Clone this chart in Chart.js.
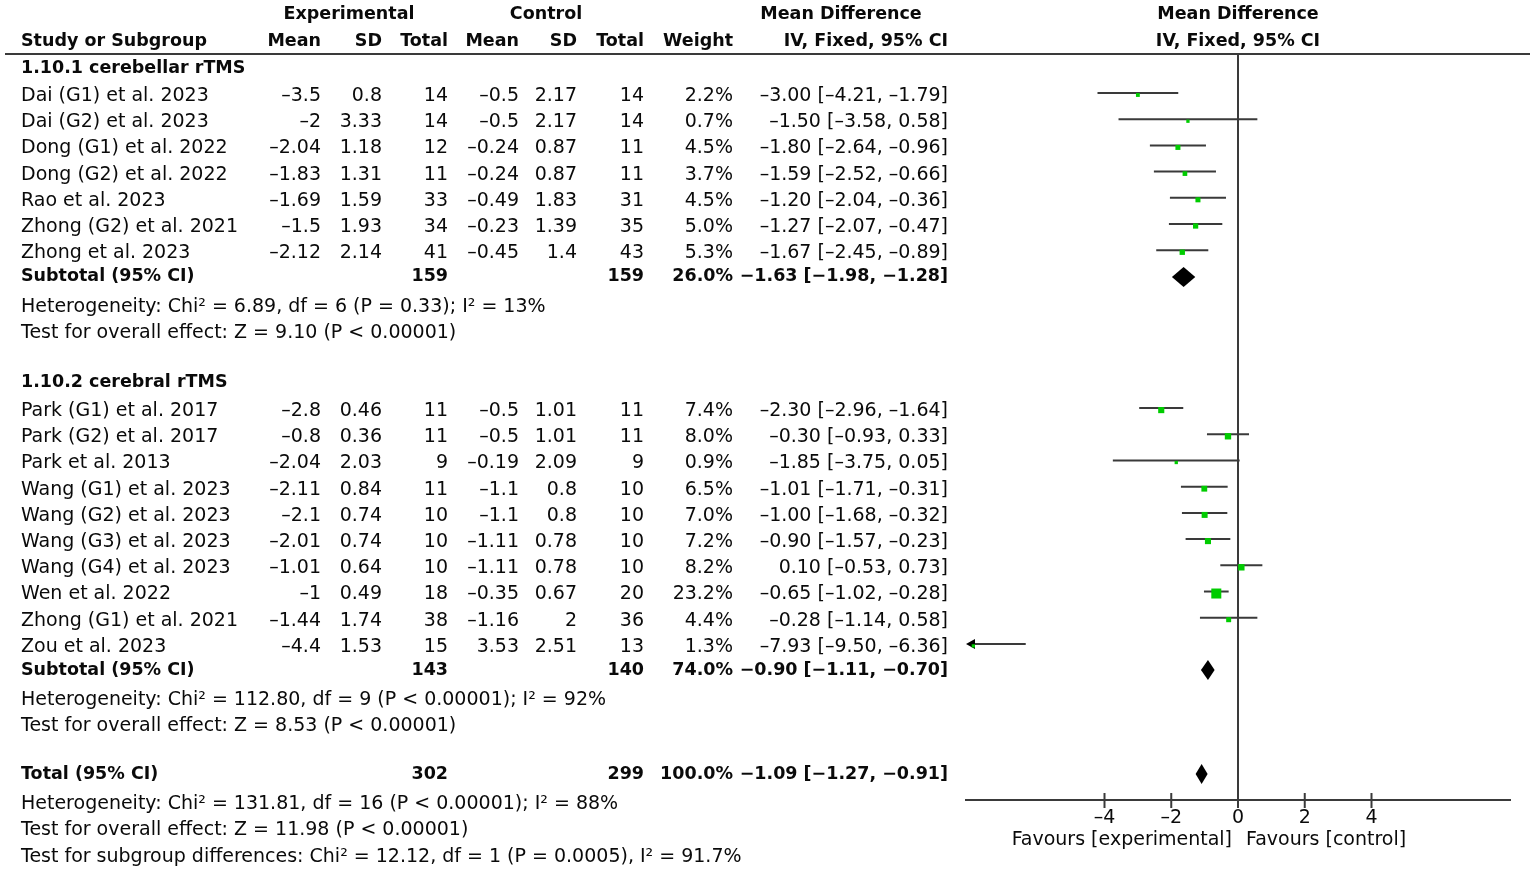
<!DOCTYPE html>
<html><head><meta charset="utf-8">
<script src="https://cdn.jsdelivr.net/npm/chart.js@4.4.1/dist/chart.umd.min.js"></script>
<style>html,body{margin:0;padding:0;background:#fff;}#wrap{width:1535px;height:871px;position:relative;}</style>
</head><body><div id="wrap"><canvas id="c"></canvas></div>
<script>
// ---------------- DATA ----------------
const groupNames = ["1.10.1 cerebellar rTMS", "1.10.2 cerebral rTMS"];
const studyNames = [
  "Dai (G1) et al. 2023", "Dai (G2) et al. 2023", "Dong (G1) et al. 2022", "Dong (G2) et al. 2022",
  "Rao et al. 2023", "Zhong (G2) et al. 2021", "Zhong et al. 2023",
  "Park (G1) et al. 2017", "Park (G2) et al. 2017", "Park et al. 2013", "Wang (G1) et al. 2023",
  "Wang (G2) et al. 2023", "Wang (G3) et al. 2023", "Wang (G4) et al. 2023", "Wen et al. 2022",
  "Zhong (G1) et al. 2021", "Zou et al. 2023"];
const studyGroup = [0,0,0,0,0,0,0, 1,1,1,1,1,1,1,1,1,1];
const expMean = [-3.5, -2, -2.04, -1.83, -1.69, -1.5, -2.12, -2.8, -0.8, -2.04, -2.11, -2.1, -2.01, -1.01, -1, -1.44, -4.4];
const expSD   = [0.8, 3.33, 1.18, 1.31, 1.59, 1.93, 2.14, 0.46, 0.36, 2.03, 0.84, 0.74, 0.74, 0.64, 0.49, 1.74, 1.53];
const expN    = [14, 14, 12, 11, 33, 34, 41, 11, 11, 9, 11, 10, 10, 10, 18, 38, 15];
const ctlMean = [-0.5, -0.5, -0.24, -0.24, -0.49, -0.23, -0.45, -0.5, -0.5, -0.19, -1.1, -1.1, -1.11, -1.11, -0.35, -1.16, 3.53];
const ctlSD   = [2.17, 2.17, 0.87, 0.87, 1.83, 1.39, 1.4, 1.01, 1.01, 2.09, 0.8, 0.8, 0.78, 0.78, 0.67, 2, 2.51];
const ctlN    = [14, 14, 11, 11, 31, 35, 43, 11, 11, 9, 10, 10, 10, 10, 20, 36, 13];
const weight  = [2.2, 0.7, 4.5, 3.7, 4.5, 5.0, 5.3, 7.4, 8.0, 0.9, 6.5, 7.0, 7.2, 8.2, 23.2, 4.4, 1.3];
const md      = [-3.00, -1.50, -1.80, -1.59, -1.20, -1.27, -1.67, -2.30, -0.30, -1.85, -1.01, -1.00, -0.90, 0.10, -0.65, -0.28, -7.93];
const ciLow   = [-4.21, -3.58, -2.64, -2.52, -2.04, -2.07, -2.45, -2.96, -0.93, -3.75, -1.71, -1.68, -1.57, -0.53, -1.02, -1.14, -9.50];
const ciHigh  = [-1.79, 0.58, -0.96, -0.66, -0.36, -0.47, -0.89, -1.64, 0.33, 0.05, -0.31, -0.32, -0.23, 0.73, -0.28, 0.58, -6.36];

const subExpN   = [159, 143];
const subCtlN   = [159, 140];
const subWeight = [26.0, 74.0];
const subMD     = [-1.63, -0.90];
const subLow    = [-1.98, -1.11];
const subHigh   = [-1.28, -0.70];
const subHet  = ["Heterogeneity: Chi² = 6.89, df = 6 (P = 0.33); I² = 13%",
                 "Heterogeneity: Chi² = 112.80, df = 9 (P < 0.00001); I² = 92%"];
const subTest = ["Test for overall effect: Z = 9.10 (P < 0.00001)",
                 "Test for overall effect: Z = 8.53 (P < 0.00001)"];

const totalExpN = 302, totalCtlN = 299, totalWeight = 100.0;
const totalMD = -1.09, totalLow = -1.27, totalHigh = -0.91;
const totalNotes = ["Heterogeneity: Chi² = 131.81, df = 16 (P < 0.00001); I² = 88%",
                    "Test for overall effect: Z = 11.98 (P < 0.00001)",
                    "Test for subgroup differences: Chi² = 12.12, df = 1 (P = 0.0005), I² = 91.7%"];

const xTicks = [-4, -2, 0, 2, 4];
const favourLabels = ["Favours [experimental]", "Favours [control]"];

// ---------------- LAYOUT (row units) ----------------
const ROW = {
  head1: -1.53, head2: -0.50,
  group: [0.50, 12.48], firstStudy: [1.565, 13.59],
  sub: [8.47, 23.47], het: [9.62, 24.62], test: [10.61, 25.61],
  total: 27.44, totalNotes: [28.59, 29.58, 30.61]
};
const studyRow = studyNames.map((_, i) => {
  const g = studyGroup[i];
  const first = studyGroup.indexOf(g);
  return ROW.firstStudy[g] + (i - first);
});

const FONT = '"DejaVu Sans", sans-serif';
const REG = '19px ' + FONT;
const BOLD = 'bold 17.5px ' + FONT;
const COL = {name: 21, eMean: 321, eSD: 382, eN: 448, cMean: 519, cSD: 577, cN: 644, w: 733, ci: 948};
const GREEN = '#00cc00';
const LINE = '#3a3a3a';
const TEXT_DY = 1, LINE_DY = -2;

const fmt = v => String(v).replace('-', '\u2013');
const fmt2 = v => v.toFixed(2).replace('-', '\u2013');
const fmt2b = v => v.toFixed(2).replace('-', '\u2212');
const ciText = (m, l, h) => `${fmt2(m)} [${fmt2(l)}, ${fmt2(h)}]`;
const ciTextB = (m, l, h) => `${fmt2b(m)} [${fmt2b(l)}, ${fmt2b(h)}]`;
const sqSide = w => Math.max(3.3, 1.1 + 1.85 * Math.sqrt(w));

const forestPlugin = {
  id: 'forest',
  beforeDatasetsDraw(chart) {
    const ctx = chart.ctx, xs = chart.scales.x, ys = chart.scales.y, ca = chart.chartArea;
    ctx.save();
    ctx.strokeStyle = LINE; ctx.lineWidth = 2;
    ctx.beginPath(); ctx.moveTo(5, ca.top); ctx.lineTo(1530, ca.top); ctx.stroke();
    const x0 = xs.getPixelForValue(0);
    ctx.beginPath(); ctx.moveTo(x0, ca.top); ctx.lineTo(x0, ca.bottom); ctx.stroke();
    xTicks.forEach(v => {
      const px = xs.getPixelForValue(v);
      ctx.beginPath(); ctx.moveTo(px, ca.bottom - 7); ctx.lineTo(px, ca.bottom + 8); ctx.stroke();
    });
    studyNames.forEach((_, i) => {
      const y = ys.getPixelForValue(studyRow[i]) + LINE_DY;
      let lo = ciLow[i], hi = ciHigh[i];
      let arrowL = false, arrowR = false;
      if (lo < xs.min) { lo = xs.min; arrowL = true; }
      if (hi > xs.max) { hi = xs.max; arrowR = true; }
      const pl = xs.getPixelForValue(lo), ph = xs.getPixelForValue(hi);
      ctx.strokeStyle = LINE; ctx.lineWidth = 2;
      ctx.beginPath(); ctx.moveTo(pl + (arrowL ? 4 : 0), y); ctx.lineTo(ph - (arrowR ? 4 : 0), y); ctx.stroke();
      ctx.fillStyle = '#000';
      if (arrowL) {
        ctx.beginPath(); ctx.moveTo(pl, y); ctx.lineTo(pl + 9, y - 5); ctx.lineTo(pl + 9, y + 5); ctx.closePath(); ctx.fill();
      }
      if (arrowR) {
        ctx.beginPath(); ctx.moveTo(ph, y); ctx.lineTo(ph - 9, y - 5); ctx.lineTo(ph - 9, y + 5); ctx.closePath(); ctx.fill();
      }
    });
    const diamond = (m, l, h, row) => {
      const y = ys.getPixelForValue(row) + TEXT_DY;
      ctx.fillStyle = '#000';
      ctx.beginPath();
      ctx.moveTo(xs.getPixelForValue(l), y);
      ctx.lineTo(xs.getPixelForValue(m), y - 10);
      ctx.lineTo(xs.getPixelForValue(h), y);
      ctx.lineTo(xs.getPixelForValue(m), y + 10);
      ctx.closePath(); ctx.fill();
    };
    subMD.forEach((m, g) => diamond(m, subLow[g], subHigh[g], ROW.sub[g]));
    diamond(totalMD, totalLow, totalHigh, ROW.total);
    ctx.restore();
  },
  afterDraw(chart) {
    const ctx = chart.ctx, xs = chart.scales.x, ys = chart.scales.y;
    const x0 = xs.getPixelForValue(0);
    ctx.save();
    ctx.fillStyle = '#0a0a0a';
    ctx.textBaseline = 'middle';
    const T = (s, x, row, align, font) => {
      ctx.font = font || REG; ctx.textAlign = align || 'right';
      ctx.fillText(s, x, ys.getPixelForValue(row) + TEXT_DY);
    };
    T('Experimental', 349, ROW.head1, 'center', BOLD);
    T('Control', 546, ROW.head1, 'center', BOLD);
    T('Mean Difference', 841, ROW.head1, 'center', BOLD);
    T('Mean Difference', x0, ROW.head1, 'center', BOLD);
    T('Study or Subgroup', COL.name, ROW.head2, 'left', BOLD);
    T('Mean', COL.eMean, ROW.head2, 'right', BOLD);
    T('SD', COL.eSD, ROW.head2, 'right', BOLD);
    T('Total', COL.eN, ROW.head2, 'right', BOLD);
    T('Mean', COL.cMean, ROW.head2, 'right', BOLD);
    T('SD', COL.cSD, ROW.head2, 'right', BOLD);
    T('Total', COL.cN, ROW.head2, 'right', BOLD);
    T('Weight', COL.w, ROW.head2, 'right', BOLD);
    T('IV, Fixed, 95% CI', COL.ci, ROW.head2, 'right', BOLD);
    T('IV, Fixed, 95% CI', x0, ROW.head2, 'center', BOLD);
    groupNames.forEach((g, gi) => {
      T(g, COL.name, ROW.group[gi], 'left', BOLD);
      T('Subtotal (95% CI)', COL.name, ROW.sub[gi], 'left', BOLD);
      T(String(subExpN[gi]), COL.eN, ROW.sub[gi], 'right', BOLD);
      T(String(subCtlN[gi]), COL.cN, ROW.sub[gi], 'right', BOLD);
      T(subWeight[gi].toFixed(1) + '%', COL.w, ROW.sub[gi], 'right', BOLD);
      T(ciTextB(subMD[gi], subLow[gi], subHigh[gi]), COL.ci, ROW.sub[gi], 'right', BOLD);
      T(subHet[gi], COL.name, ROW.het[gi], 'left');
      T(subTest[gi], COL.name, ROW.test[gi], 'left');
    });
    studyNames.forEach((n, i) => {
      const r = studyRow[i];
      T(n, COL.name, r, 'left');
      T(fmt(expMean[i]), COL.eMean, r);
      T(fmt(expSD[i]), COL.eSD, r);
      T(String(expN[i]), COL.eN, r);
      T(fmt(ctlMean[i]), COL.cMean, r);
      T(fmt(ctlSD[i]), COL.cSD, r);
      T(String(ctlN[i]), COL.cN, r);
      T(weight[i].toFixed(1) + '%', COL.w, r);
      T(ciText(md[i], ciLow[i], ciHigh[i]), COL.ci, r);
    });
    T('Total (95% CI)', COL.name, ROW.total, 'left', BOLD);
    T(String(totalExpN), COL.eN, ROW.total, 'right', BOLD);
    T(String(totalCtlN), COL.cN, ROW.total, 'right', BOLD);
    T(totalWeight.toFixed(1) + '%', COL.w, ROW.total, 'right', BOLD);
    T(ciTextB(totalMD, totalLow, totalHigh), COL.ci, ROW.total, 'right', BOLD);
    totalNotes.forEach((s, k) => T(s, COL.name, ROW.totalNotes[k], 'left'));
    ctx.font = REG; ctx.textBaseline = 'middle';
    const fy = chart.chartArea.bottom + 40;
    ctx.textAlign = 'right'; ctx.fillText(favourLabels[0], x0 - 6, fy);
    ctx.textAlign = 'left'; ctx.fillText(favourLabels[1], x0 + 8, fy);
    ctx.restore();
  }
};

new Chart(document.getElementById('c'), {
  type: 'scatter',
  data: {
    datasets: [{
      data: studyNames.map((_, i) => ({x: md[i], y: studyRow[i]})),
      pointStyle: 'rect',
      pointRadius: weight.map(w => sqSide(w) / Math.SQRT2),
      pointHoverRadius: weight.map(w => sqSide(w) / Math.SQRT2),
      pointBackgroundColor: GREEN,
      pointBorderColor: GREEN,
      pointBorderWidth: 0,
      clip: false
    }]
  },
  options: {
    responsive: true, maintainAspectRatio: false, animation: false,
    layout: {padding: {left: 966, right: 25, top: 54, bottom: 41}},
    plugins: {legend: {display: false}, tooltip: {enabled: false}},
    scales: {
      x: {
        type: 'linear', min: -8.15, max: 8.15, position: 'bottom',
        afterBuildTicks: s => { s.ticks = xTicks.map(v => ({value: v})); },
        afterFit: s => { s.height = 30; },
        grid: {display: true, drawOnChartArea: false, drawTicks: false},
        border: {display: true, color: LINE, width: 2},
        ticks: {padding: 7, color: '#0a0a0a', autoSkip: false, maxRotation: 0,
                font: {family: FONT, size: 19}, callback: v => fmt(v)}
      },
      y: {type: 'linear', min: 0, max: 28.47, reverse: true, display: false}
    }
  },
  plugins: [forestPlugin]
});
</script>
</body></html>
